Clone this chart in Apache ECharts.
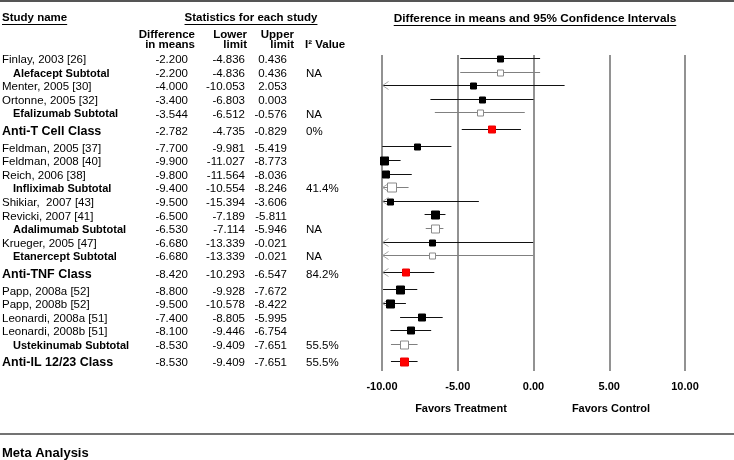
<!DOCTYPE html>
<html>
<head>
<meta charset="utf-8">
<script src="https://cdn.jsdelivr.net/npm/echarts@6/dist/echarts.min.js"></script>
<style>
html,body{margin:0;padding:0;background:#fff;}
#chart{width:734px;height:460px;}
</style>
</head>
<body>
<div id="chart"></div>
<script>
// ---- data ----
const studyNames = [
  'Finlay, 2003 [26]', 'Alefacept Subtotal', 'Menter, 2005 [30]', 'Ortonne, 2005 [32]',
  'Efalizumab Subtotal', 'Anti-T Cell Class', 'Feldman, 2005 [37]', 'Feldman, 2008 [40]',
  'Reich, 2006 [38]', 'Infliximab Subtotal', 'Shikiar,  2007 [43]', 'Revicki, 2007 [41]',
  'Adalimumab Subtotal', 'Krueger, 2005 [47]', 'Etanercept Subtotal', 'Anti-TNF Class',
  'Papp, 2008a [52]', 'Papp, 2008b [52]', 'Leonardi, 2008a [51]', 'Leonardi, 2008b [51]',
  'Ustekinumab Subtotal', 'Anti-IL 12/23 Class'
];
const rowTypes = [
  'study', 'sub', 'study', 'study', 'sub', 'class', 'study', 'study', 'study', 'sub', 'study',
  'study', 'sub', 'study', 'sub', 'class', 'study', 'study', 'study', 'study', 'sub', 'class'
];
const diffMeans = [
  -2.200, -2.200, -4.000, -3.400, -3.544, -2.782, -7.700, -9.900, -9.800, -9.400, -9.500,
  -6.500, -6.530, -6.680, -6.680, -8.420, -8.800, -9.500, -7.400, -8.100, -8.530, -8.530
];
const lowerLimits = [
  -4.836, -4.836, -10.053, -6.803, -6.512, -4.735, -9.981, -11.027, -11.564, -10.554, -15.394,
  -7.189, -7.114, -13.339, -13.339, -10.293, -9.928, -10.578, -8.805, -9.446, -9.409, -9.409
];
const upperLimits = [
  0.436, 0.436, 2.053, 0.003, -0.576, -0.829, -5.419, -8.773, -8.036, -8.246, -3.606,
  -5.811, -5.946, -0.021, -0.021, -6.547, -7.672, -8.422, -5.995, -6.754, -7.651, -7.651
];
const i2Values = [
  '', 'NA', '', '', 'NA', '0%', '', '', '', '41.4%', '', '', 'NA', '', 'NA', '84.2%',
  '', '', '', '', '55.5%', '55.5%'
];
// relative study weights (drive marker size)
const relWeights = [2, 2, 2, 2, 2, 3, 2, 4, 3, 5, 2, 4, 4, 2, 2, 3, 4, 4, 3, 3, 4, 4];
const xTicks = [-10, -5, 0, 5, 10];

// ---- layout helpers ----
const FONT = '"Liberation Sans", Arial, sans-serif';
const rowPos = [];
rowTypes.forEach((t, i) => {
  if (i === 0) { rowPos.push(0); return; }
  const gap = (t === 'class' || rowTypes[i - 1] === 'class') ? 1.25 : 1;
  rowPos.push(rowPos[i - 1] + gap);
});
const fmt = v => v.toFixed(3);

const ctx = document.createElement('canvas').getContext('2d');
function textW(str, font) { ctx.font = font; return ctx.measureText(str).width; }

const forestData = diffMeans.map((m, i) => [m, rowPos[i], lowerLimits[i], upperLimits[i], relWeights[i]]);
const tableData = rowPos.map(y => [0, y]);

const chart = echarts.init(document.getElementById('chart'), null, {renderer: 'canvas'});

function headerText(x, y, text, align, underline, size) {
  const font = 'bold ' + (size || 11.5) + 'px ' + FONT;
  const els = [{
    type: 'text', x: x, y: y,
    style: {text: text, font: font, fill: '#000', textAlign: align, textVerticalAlign: 'middle'}
  }];
  if (underline) {
    const w = textW(text, font);
    const x0 = align === 'center' ? x - w / 2 : (align === 'right' ? x - w : x);
    els.push({type: 'line', shape: {x1: x0, y1: y + 6.5, x2: x0 + w, y2: y + 6.5},
      style: {stroke: '#000', lineWidth: 1}});
  }
  return els;
}

const graphics = [].concat(
  [{type: 'line', shape: {x1: 0, y1: 1, x2: 734, y2: 1}, style: {stroke: '#555', lineWidth: 2}}],
  headerText(2, 18, 'Study name', 'left', true),
  headerText(251, 18, 'Statistics for each study', 'center', true),
  headerText(535, 19, 'Difference in means and 95% Confidence Intervals', 'center', true, 11.8),
  [
    {type: 'text', x: 195, y: 40, style: {text: 'Difference\nin means', font: 'bold 11.5px ' + FONT, lineHeight: 9.5, fill: '#000', textAlign: 'right', textVerticalAlign: 'middle'}},
    {type: 'text', x: 247, y: 40, style: {text: 'Lower\nlimit', font: 'bold 11.5px ' + FONT, lineHeight: 9.5, fill: '#000', textAlign: 'right', textVerticalAlign: 'middle'}},
    {type: 'text', x: 294, y: 40, style: {text: 'Upper\nlimit', font: 'bold 11.5px ' + FONT, lineHeight: 9.5, fill: '#000', textAlign: 'right', textVerticalAlign: 'middle'}},
    {type: 'text', x: 305, y: 44.5, style: {text: 'I\u00B2 Value', font: 'bold 11.5px ' + FONT, fill: '#000', textAlign: 'left', textVerticalAlign: 'middle'}},
    {type: 'text', x: 461, y: 409, style: {text: 'Favors Treatment', font: 'bold 11px ' + FONT, fill: '#000', textAlign: 'center', textVerticalAlign: 'middle'}},
    {type: 'text', x: 611, y: 409, style: {text: 'Favors Control', font: 'bold 11px ' + FONT, fill: '#000', textAlign: 'center', textVerticalAlign: 'middle'}},
    {type: 'line', shape: {x1: 0, y1: 434, x2: 734, y2: 434}, style: {stroke: '#444', lineWidth: 1.5}},
    {type: 'text', x: 2, y: 453, style: {text: 'Meta Analysis', font: 'bold 13px ' + FONT, fill: '#000', textAlign: 'left', textVerticalAlign: 'middle'}}
  ]
);

const option = {
  animation: false,
  backgroundColor: '#fff',
  grid: {left: 382, right: 49, top: 55, height: 316},
  xAxis: {
    type: 'value', min: -10, max: 10, interval: 5,
    axisLine: {show: false}, axisTick: {show: false},
    splitLine: {show: true, lineStyle: {color: '#6e6e6e', width: 1.5}},
    axisLabel: {
      margin: 10, color: '#000', fontWeight: 'bold', fontSize: 11, fontFamily: FONT,
      formatter: v => xTicks.indexOf(v) >= 0 ? v.toFixed(2) : ''
    }
  },
  yAxis: {
    type: 'value', inverse: true, min: -0.22, max: 23.0,
    show: false, splitLine: {show: false}
  },
  graphic: graphics,
  series: [
    {
      type: 'custom',
      name: 'table',
      clip: false,
      silent: true,
      data: tableData,
      renderItem: function (params, api) {
        const i = params.dataIndex;
        const y = api.coord([0, api.value(1)])[1] + 2;
        const t = rowTypes[i];
        const nameFont = t === 'study' ? '11.5px ' + FONT : (t === 'sub' ? 'bold 11px ' + FONT : 'bold 12.5px ' + FONT);
        const numFont = '11.5px ' + FONT;
        const nameX = t === 'sub' ? 13 : 2;
        const mk = (x, text, font, align) => ({
          type: 'text', x: x, y: y,
          style: {text: text, font: font, fill: '#000', textAlign: align, textVerticalAlign: 'middle'}
        });
        return {
          type: 'group',
          children: [
            mk(nameX, studyNames[i], nameFont, 'left'),
            mk(188, fmt(diffMeans[i]), numFont, 'right'),
            mk(245, fmt(lowerLimits[i]), numFont, 'right'),
            mk(287, fmt(upperLimits[i]), numFont, 'right'),
            mk(306, i2Values[i], numFont, 'left')
          ]
        };
      }
    },
    {
      type: 'custom',
      name: 'forest',
      clip: false,
      data: forestData,
      renderItem: function (params, api) {
        const i = params.dataIndex;
        const t = rowTypes[i];
        const yv = api.value(1);
        const lo = api.value(2), hi = api.value(3);
        const p1 = api.coord([Math.max(lo, -10), yv]);
        const p2 = api.coord([Math.min(hi, 10), yv]);
        const pm = api.coord([api.value(0), yv]);
        const yy = Math.round(p1[1]) + 0.5;
        const lineColor = t === 'sub' ? '#808080' : '#111';
        const children = [{
          type: 'line', shape: {x1: p1[0], y1: yy, x2: p2[0], y2: yy},
          style: {stroke: lineColor, lineWidth: 1}
        }];
        if (lo < -10) {
          children.push({
            type: 'polyline',
            shape: {points: [[p1[0] + 6.5, yy - 4], [p1[0] + 0.5, yy], [p1[0] + 6.5, yy + 4]]},
            style: {stroke: '#a8a8a8', lineWidth: 1, fill: null}
          });
        }
        const s = 4 + api.value(4);
        const fill = t === 'study' ? '#000' : (t === 'sub' ? '#fff' : '#f00');
        const stroke = t === 'study' ? '#000' : (t === 'sub' ? '#8a8a8a' : '#e00');
        children.push({
          type: 'rect',
          shape: {x: Math.round(pm[0] - s / 2) + 0.5, y: Math.round(yy - s / 2), width: s, height: s},
          style: {fill: fill, stroke: stroke, lineWidth: 1}
        });
        return {type: 'group', children: children};
      }
    }
  ]
};
chart.setOption(option);
</script>
</body>
</html>
